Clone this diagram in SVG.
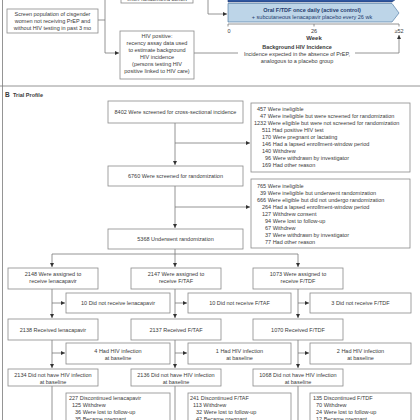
<svg xmlns="http://www.w3.org/2000/svg" width="420" height="420" viewBox="0 0 420 420">
<defs>
<marker id="ah" markerUnits="userSpaceOnUse" markerWidth="5" markerHeight="5" refX="4" refY="2" orient="auto">
<path d="M0,0 L4,2 L0,4 Z" fill="#333"/>
</marker>
<style>
text{font-family:"Liberation Sans","DejaVu Sans",sans-serif;font-size:5.5px;fill:#3a3a3a}
.c{text-anchor:middle}
.b{font-weight:bold}
.box{fill:#fff;stroke:#8a8a8a;stroke-width:0.8}
.ln{fill:none;stroke:#7a7a7a;stroke-width:0.8}
.ar{fill:none;stroke:#7a7a7a;stroke-width:0.8;marker-end:url(#ah)}
.blue{fill:#1f3b6e}
</style>
</defs>
<rect width="420" height="420" fill="#fff"/>
<line class="ln" x1="2.5" y1="0" x2="2.5" y2="420"/>
<line class="ln" x1="0" y1="86" x2="420" y2="86"/>

<g id="connectors">
<path class="ln" d="M98,20 H105"/>
<path class="ar" d="M105,0 V53 H119"/>
<path class="ar" d="M208,0 V14 H227"/>
<path class="ln" d="M194,53 H238"/>
<path class="ar" d="M355,53 H399 V35"/>
<path class="ar" d="M175,123 V165"/>
<path class="ar" d="M175,143 H250"/>
<path class="ar" d="M175,186 V228"/>
<path class="ar" d="M175,207 H250"/>
<path class="ln" d="M175,249 V254 M52,254 H298"/>
<path class="ar" d="M52,254 V267"/>
<path class="ar" d="M175,254 V267"/>
<path class="ar" d="M298,254 V267"/>
<path class="ar" d="M52,289 V318"/>
<path class="ar" d="M175,289 V318"/>
<path class="ar" d="M298,289 V318"/>
<path class="ar" d="M52,303 H65"/>
<path class="ar" d="M175,303 H187"/>
<path class="ar" d="M298,303 H309"/>
<path class="ar" d="M52,340 V368"/>
<path class="ar" d="M175,340 V368"/>
<path class="ar" d="M298,340 V368"/>
<path class="ar" d="M52,353 H65"/>
<path class="ar" d="M175,353 H187"/>
<path class="ar" d="M298,353 H309"/>
<path class="ln" d="M52,386 V420 M175,386 V420 M298,386 V420"/>
</g>

<g id="cohort-box">
<rect class="box" x="121" y="-10" width="72" height="13"/>
<text class="c" x="157" y="1">enter randomized cohort</text>
</g>

<g id="screen-pop">
<rect class="box" x="7" y="9" width="91" height="24"/>
<text class="c" x="52.5" y="16">Screen population of cisgender</text>
<text class="c" x="52.5" y="23">women not receiving PrEP and</text>
<text class="c" x="52.5" y="30">without HIV testing in past 3 mo</text>
</g>

<g id="hiv-positive">
<rect class="box" x="120" y="31" width="74" height="48"/>
<text class="c" x="157" y="37.5">HIV positive:</text>
<text class="c" x="157" y="44.5">recency assay data used</text>
<text class="c" x="157" y="51.5">to estimate background</text>
<text class="c" x="157" y="58.5">HIV incidence</text>
<text class="c" x="157" y="65.5">(persons testing HIV</text>
<text class="c" x="157" y="72.5">positive linked to HIV care)</text>
</g>

<g id="arms-timeline">
<path d="M228,-10 H392 L399,-3 L392,2 H228 Z" fill="#2f56a0" stroke="#1f3b6e" stroke-width="0.6"/>
<path d="M228,3.5 H392 L399,13 L392,22 H228 Z" fill="#bdd5e8" stroke="#3f6f9c" stroke-width="0.6"/>
<text class="c b" x="312" y="11.5" style="fill:#1f3b6e">Oral F/TDF once daily (active control)</text>
<text class="c" x="312" y="18.5" style="fill:#1f3b6e">+ subcutaneous lenacapavir placebo every 26 wk</text>
<path class="ln" d="M228,24 H399 M228,24 V26.5 M314,24 V26.5 M399,24 V26.5"/>
<text class="c" x="229" y="32.5">0</text>
<text class="c" x="314" y="32.5">26</text>
<text class="c" x="399" y="32.5">≥52</text>
<text class="c b" x="314" y="40" style="font-size:6px">Week</text>
<text class="c b" x="297" y="49">Background HIV Incidence</text>
<text class="c" x="297" y="56">Incidence expected in the absence of PrEP,</text>
<text class="c" x="297" y="63">analogous to a placebo group</text>
</g>

<text x="5" y="97" class="b" style="font-size:6.5px">B</text>
<text x="13" y="97" class="b">Trial Profile</text>

<g id="screened-cross">
<rect class="box" x="108" y="101" width="135" height="22"/>
<text class="c" x="175.5" y="114">8402 Were screened for cross-sectional incidence</text>
</g>

<g id="inelig1">
<rect class="box" x="251" y="103" width="159" height="69"/>
<text x="257" y="111">457 Were ineligible</text>
<text x="260" y="118">47 Were ineligible but were screened for randomization</text>
<text x="254" y="125">1232 Were eligible but were not screened for randomization</text>
<text x="262" y="132">511 Had positive HIV test</text>
<text x="262" y="139">170 Were pregnant or lactating</text>
<text x="262" y="146">146 Had a lapsed enrollment-window period</text>
<text x="262" y="153">140 Withdrew</text>
<text x="265" y="160">96 Were withdrawn by investigator</text>
<text x="262" y="167">169 Had other reason</text>
</g>

<g id="screened-rand">
<rect class="box" x="108" y="166" width="135" height="20"/>
<text class="c" x="175.5" y="178">6760 Were screened for randomization</text>
</g>

<g id="inelig2">
<rect class="box" x="251" y="179" width="159" height="69"/>
<text x="257" y="188">765 Were ineligible</text>
<text x="260" y="195">39 Were ineligible but underwent randomization</text>
<text x="257" y="202">666 Were eligible but did not undergo randomization</text>
<text x="262" y="209">264 Had a lapsed enrollment-window period</text>
<text x="262" y="216">127 Withdrew consent</text>
<text x="265" y="223">94 Were lost to follow-up</text>
<text x="265" y="230">67 Withdrew</text>
<text x="265" y="237">37 Were withdrawn by investigator</text>
<text x="265" y="244">77 Had other reason</text>
</g>

<g id="randomized">
<rect class="box" x="108" y="229" width="135" height="20"/>
<text class="c" x="175.5" y="241">5368 Underwent randomization</text>
</g>

<g id="assigned-len">
<rect class="box" x="8" y="268" width="90" height="21"/>
<text class="c" x="53" y="276">2148 Were assigned to</text>
<text class="c" x="53" y="283">receive lenacapavir</text>
</g>
<g id="assigned-taf">
<rect class="box" x="131" y="268" width="90" height="21"/>
<text class="c" x="176" y="276">2147 Were assigned to</text>
<text class="c" x="176" y="283">receive F/TAF</text>
</g>
<g id="assigned-tdf">
<rect class="box" x="253" y="268" width="90" height="21"/>
<text class="c" x="298" y="276">1073 Were assigned to</text>
<text class="c" x="298" y="283">receive F/TDF</text>
</g>

<g id="notrec-len">
<rect class="box" x="66" y="293" width="104" height="20"/>
<text class="c" x="118" y="305">10 Did not receive lenacapavir</text>
</g>
<g id="notrec-taf">
<rect class="box" x="188" y="293" width="103" height="20"/>
<text class="c" x="239.5" y="305">10 Did not receive F/TAF</text>
</g>
<g id="notrec-tdf">
<rect class="box" x="310" y="293" width="101" height="20"/>
<text class="c" x="360.5" y="305">3 Did not receive F/TDF</text>
</g>

<g id="rec-len">
<rect class="box" x="8" y="319" width="90" height="21"/>
<text class="c" x="53" y="331.5">2138 Received lenacapavir</text>
</g>
<g id="rec-taf">
<rect class="box" x="131" y="319" width="90" height="21"/>
<text class="c" x="176" y="331.5">2137 Received F/TAF</text>
</g>
<g id="rec-tdf">
<rect class="box" x="253" y="319" width="90" height="21"/>
<text class="c" x="298" y="331.5">1070 Received F/TDF</text>
</g>

<g id="hiv-len">
<rect class="box" x="66" y="343" width="104" height="21"/>
<text class="c" x="118" y="352.5">4 Had HIV infection</text>
<text class="c" x="118" y="359.5">at baseline</text>
</g>
<g id="hiv-taf">
<rect class="box" x="188" y="343" width="103" height="21"/>
<text class="c" x="239.5" y="352.5">1 Had HIV infection</text>
<text class="c" x="239.5" y="359.5">at baseline</text>
</g>
<g id="hiv-tdf">
<rect class="box" x="310" y="343" width="101" height="21"/>
<text class="c" x="360.5" y="352.5">2 Had HIV infection</text>
<text class="c" x="360.5" y="359.5">at baseline</text>
</g>

<g id="nohiv-len">
<rect class="box" x="8" y="369" width="90" height="17"/>
<text class="c" x="53" y="376.5">2134 Did not have HIV infection</text>
<text class="c" x="53" y="383.5">at baseline</text>
</g>
<g id="nohiv-taf">
<rect class="box" x="131" y="369" width="90" height="17"/>
<text class="c" x="176" y="376.5">2136 Did not have HIV infection</text>
<text class="c" x="176" y="383.5">at baseline</text>
</g>
<g id="nohiv-tdf">
<rect class="box" x="253" y="369" width="90" height="17"/>
<text class="c" x="298" y="376.5">1068 Did not have HIV infection</text>
<text class="c" x="298" y="383.5">at baseline</text>
</g>

<g id="disc-len">
<rect class="box" x="66" y="393" width="104" height="40"/>
<text x="69" y="400">227 Discontinued lenacapavir</text>
<text x="72" y="407">125 Withdrew</text>
<text x="75" y="414">36 Were lost to follow-up</text>
<text x="75" y="421">35 Became pregnant</text>
</g>
<g id="disc-taf">
<rect class="box" x="188" y="393" width="103" height="40"/>
<text x="190" y="400">241 Discontinued F/TAF</text>
<text x="193" y="407">113 Withdrew</text>
<text x="196" y="414">32 Were lost to follow-up</text>
<text x="196" y="421">42 Became pregnant</text>
</g>
<g id="disc-tdf">
<rect class="box" x="310" y="393" width="101" height="40"/>
<text x="313" y="400">135 Discontinued F/TDF</text>
<text x="316" y="407">70 Withdrew</text>
<text x="316" y="414">24 Were lost to follow-up</text>
<text x="316" y="421">12 Became pregnant</text>
</g>
</svg>
